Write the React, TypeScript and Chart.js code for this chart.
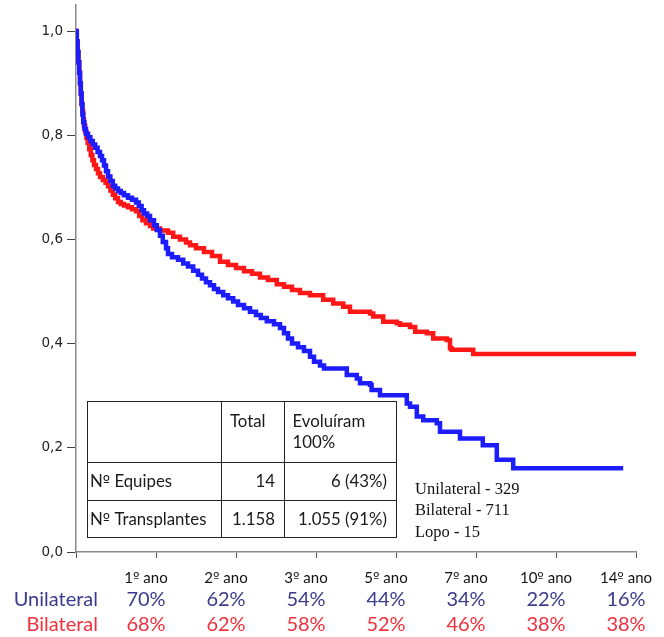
import React, { useEffect, useRef } from 'react';
import { Chart, registerables } from 'chart.js';

Chart.register(...registerables);

// ---- Data ----
const yTickValues = [0, 0.2, 0.4, 0.6, 0.8, 1.0];

const unilateralYears = [0, 0.02, 0.04, 0.06, 0.08, 0.1, 0.12, 0.14, 0.16, 0.18, 0.21, 0.25, 0.3, 0.36, 0.42, 0.48, 0.54, 0.6, 0.65, 0.7, 0.75, 0.8, 0.86, 0.92, 0.98, 1.05, 1.12, 1.2, 1.3, 1.4, 1.5, 1.57, 1.64, 1.7, 1.78, 1.85, 1.95, 2.02, 2.1, 2.17, 2.25, 2.3, 2.4, 2.55, 2.68, 2.8, 2.93, 3.05, 3.15, 3.25, 3.35, 3.45, 3.55, 3.68, 3.8, 3.93, 4.05, 4.2, 4.35, 4.5, 4.62, 4.77, 4.95, 5.1, 5.2, 5.3, 5.4, 5.55, 5.7, 5.85, 5.95, 6.1, 6.2, 6.77, 7.02, 7.1, 7.35, 7.39, 7.6, 8.27, 8.35, 8.52, 8.68, 9.02, 9.1, 9.6, 10.17, 10.52, 10.93, 13.68];
const unilateralSurvival = [1.0, 0.98, 0.96, 0.94, 0.92, 0.90, 0.88, 0.86, 0.84, 0.825, 0.812, 0.803, 0.796, 0.789, 0.782, 0.776, 0.768, 0.76, 0.752, 0.742, 0.731, 0.721, 0.712, 0.703, 0.698, 0.693, 0.689, 0.685, 0.68, 0.676, 0.671, 0.664, 0.656, 0.65, 0.645, 0.637, 0.627, 0.618, 0.607, 0.595, 0.583, 0.572, 0.566, 0.561, 0.554, 0.548, 0.54, 0.532, 0.525, 0.518, 0.512, 0.505, 0.499, 0.493, 0.487, 0.481, 0.474, 0.468, 0.461, 0.455, 0.449, 0.443, 0.437, 0.43, 0.42, 0.41, 0.40, 0.393, 0.386, 0.375, 0.365, 0.358, 0.352, 0.340, 0.333, 0.324, 0.321, 0.311, 0.301, 0.285, 0.279, 0.260, 0.253, 0.247, 0.231, 0.218, 0.205, 0.177, 0.161, 0.161];

const bilateralYears = [0, 0.02, 0.04, 0.06, 0.08, 0.1, 0.12, 0.14, 0.16, 0.18, 0.2, 0.23, 0.26, 0.29, 0.33, 0.37, 0.41, 0.45, 0.5, 0.55, 0.6, 0.67, 0.74, 0.8, 0.86, 0.92, 0.98, 1.05, 1.12, 1.2, 1.3, 1.4, 1.5, 1.58, 1.66, 1.75, 1.85, 1.93, 2.1, 2.3, 2.43, 2.6, 2.75, 2.85, 3.0, 3.2, 3.4, 3.6, 3.8, 4.0, 4.2, 4.4, 4.6, 4.8, 5.02, 5.2, 5.4, 5.6, 5.85, 6.18, 6.43, 6.68, 6.85, 7.35, 7.43, 7.68, 8.02, 8.1, 8.35, 8.48, 8.77, 8.93, 9.27, 9.35, 9.39, 9.93, 14];
const bilateralSurvival = [1.0, 0.98, 0.96, 0.94, 0.92, 0.90, 0.88, 0.86, 0.845, 0.83, 0.818, 0.806, 0.795, 0.785, 0.773, 0.762, 0.752, 0.743, 0.735, 0.727, 0.72, 0.714, 0.709, 0.702, 0.694, 0.686, 0.679, 0.672, 0.668, 0.665, 0.662, 0.658, 0.654, 0.645, 0.637, 0.631, 0.626, 0.621, 0.617, 0.613, 0.605, 0.60, 0.594, 0.589, 0.583, 0.576, 0.568, 0.557, 0.551, 0.545, 0.539, 0.534, 0.527, 0.522, 0.514, 0.509, 0.503, 0.497, 0.493, 0.484, 0.477, 0.471, 0.461, 0.458, 0.452, 0.442, 0.439, 0.436, 0.432, 0.423, 0.420, 0.410, 0.407, 0.391, 0.388, 0.380, 0.380];

const milestoneLabels = ['1º ano', '2º ano', '3º ano', '5º ano', '7º ano', '10º ano', '14º ano'];
const unilateralPct = ['70%', '62%', '54%', '44%', '34%', '22%', '16%'];
const bilateralPct = ['68%', '62%', '58%', '52%', '46%', '38%', '38%'];
const rowNames = ['Unilateral', 'Bilateral'];

const tableHeader = ['', 'Total', 'Evoluíram', '100%'];
const tableRowLabels = ['Nº Equipes', 'Nº Transplantes'];
const tableTotals = ['14', '1.158'];
const tableEvolved = ['6 (43%)', '1.055 (91%)'];

const cohortLegend = ['Unilateral - 329', 'Bilateral - 711', 'Lopo - 15'];

const BLUE = 'rgb(28,28,255)';
const RED = 'rgb(255,22,22)';
const SANS = 'Lato, "Noto Sans", sans-serif';
const ORD = '"DejaVu Sans", sans-serif';

// draws text in SANS, with the ordinal sign in a font that underlines it
function drawMixed(ctx: CanvasRenderingContext2D, text: string, x: number, y: number, size: number, align: 'left' | 'center' | 'right') {
  const parts = text.split(/(º)/).filter((p) => p.length > 0);
  const fontFor = (p: string) => (p === 'º' ? `${size * 0.92}px ${ORD}` : `${size}px ${SANS}`);
  let total = 0;
  const widths = parts.map((p) => {
    ctx.font = fontFor(p);
    const w = ctx.measureText(p).width;
    total += w;
    return w;
  });
  let cx = align === 'left' ? x : align === 'center' ? x - total / 2 : x - total;
  const prevAlign = ctx.textAlign;
  ctx.textAlign = 'left';
  parts.forEach((p, i) => {
    ctx.font = fontFor(p);
    ctx.fillText(p, cx, y);
    cx += widths[i];
  });
  ctx.textAlign = prevAlign;
}

const overlayPlugin = {
  id: 'overlay',
  afterDraw(chart: any) {
    const ctx: CanvasRenderingContext2D = chart.ctx;
    const area = chart.chartArea;
    ctx.save();

    // --- statistics table ---
    const cx = [87.5, 221.5, 284.5, 396.5];
    const ry = [401.5, 462.5, 500.5, 537.5];
    ctx.fillStyle = '#ffffff';
    ctx.fillRect(cx[0], ry[0], cx[3] - cx[0], ry[3] - ry[0]);
    ctx.strokeStyle = '#222';
    ctx.lineWidth = 1;
    ctx.strokeRect(cx[0], ry[0], cx[3] - cx[0], ry[3] - ry[0]);
    ctx.beginPath();
    for (let i = 1; i < 3; i++) {
      ctx.moveTo(cx[i], ry[0]);
      ctx.lineTo(cx[i], ry[3]);
      ctx.moveTo(cx[0], ry[i]);
      ctx.lineTo(cx[3], ry[i]);
    }
    ctx.stroke();

    ctx.fillStyle = '#1a1a1a';
    ctx.font = `16.8px ${SANS}`;
    ctx.textBaseline = 'middle';
    ctx.textAlign = 'left';
    ctx.fillText(tableHeader[1], 230, 422);
    ctx.fillText(tableHeader[2], 292.5, 422);
    ctx.fillText(tableHeader[3], 292.5, 443);
    for (let r = 0; r < tableRowLabels.length; r++) {
      const y = r === 0 ? 482 : 520;
      drawMixed(ctx, tableRowLabels[r], 90, y, 16.8, 'left');
      ctx.font = `16.8px ${SANS}`;
      ctx.textAlign = 'right';
      ctx.fillText(tableTotals[r], 275, y);
      ctx.fillText(tableEvolved[r], 387, y);
    }

    // --- cohort legend (serif) ---
    ctx.textAlign = 'left';
    ctx.textBaseline = 'alphabetic';
    ctx.font = '16.5px "Liberation Serif", serif';
    ctx.fillStyle = '#111';
    cohortLegend.forEach((t, i) => ctx.fillText(t, 415, 494 + i * 21.3));

    // --- milestone table under the axis ---
    const colW = (area.right - area.left) / milestoneLabels.length;
    ctx.textBaseline = 'middle';
    ctx.textAlign = 'center';
    milestoneLabels.forEach((lab, i) => {
      const x = area.left + colW * (i + 0.875);
      ctx.fillStyle = '#111';
      drawMixed(ctx, lab, x, 578, 15, 'center');
      ctx.font = `20px ${SANS}`;
      ctx.textAlign = 'center';
      ctx.fillStyle = '#3b3b8e';
      ctx.fillText(unilateralPct[i], x, 600);
      ctx.fillStyle = '#f0303c';
      ctx.fillText(bilateralPct[i], x, 625);
    });
    ctx.textAlign = 'right';
    ctx.font = `20px ${SANS}`;
    ctx.fillStyle = '#3b3b8e';
    ctx.fillText(rowNames[0], 98, 600);
    ctx.fillStyle = '#f0303c';
    ctx.fillText(rowNames[1], 98, 625);

    ctx.restore();
  },
};

export default function App() {
  const canvasRef = useRef<HTMLCanvasElement | null>(null);

  useEffect(() => {
    const canvas = canvasRef.current;
    if (!canvas) return;
    const chart = new Chart(canvas, {
      type: 'line',
      data: {
        datasets: [
          {
            label: 'Unilateral',
            data: unilateralYears.map((x, i) => ({ x, y: unilateralSurvival[i] })),
            borderColor: BLUE,
            borderWidth: 4.5,
            pointRadius: 0,
            stepped: 'before',
            fill: false,
          },
          {
            label: 'Bilateral',
            data: bilateralYears.map((x, i) => ({ x, y: bilateralSurvival[i] })),
            borderColor: RED,
            borderWidth: 4.5,
            pointRadius: 0,
            stepped: 'before',
            fill: false,
          },
        ],
      },
      options: {
        animation: false,
        responsive: false,
        maintainAspectRatio: false,
        layout: { padding: { left: 0, right: 28, top: 5, bottom: 0 } },
        plugins: {
          legend: { display: false },
          tooltip: { enabled: false },
        },
        scales: {
          x: {
            type: 'linear',
            min: 0,
            max: 14,
            ticks: { stepSize: 2, display: false },
            grid: { drawOnChartArea: false, drawTicks: true, tickLength: 6, color: '#555' },
            border: { color: '#8a8a8a', width: 1.5 },
            afterFit: (s: any) => {
              s.height = 85;
              s.paddingLeft = 0;
              s.paddingRight = 0;
            },
          },
          y: {
            type: 'linear',
            min: 0,
            max: 1.05,
            afterBuildTicks: (s: any) => {
              s.ticks = yTickValues.map((v) => ({ value: v }));
            },
            ticks: {
              callback: (v: any) => Number(v).toFixed(1).replace('.', ','),
              font: { family: '"DejaVu Sans", sans-serif', size: 13.5 },
              color: '#222',
              padding: 4,
            },
            grid: { drawOnChartArea: false, tickLength: 9, color: '#444' },
            border: { color: '#8a8a8a', width: 1.5 },
            afterFit: (s: any) => {
              s.width = 76;
              s.paddingTop = 0;
              s.paddingBottom = 0;
            },
          },
        },
      },
      plugins: [overlayPlugin],
    });
    return () => chart.destroy();
  }, []);

  return (
    <div style={{ position: 'absolute', left: 0, top: 0, width: 664, height: 637, background: '#fff' }}>
      <canvas ref={canvasRef} width={664} height={637} style={{ width: 664, height: 637 }} />
    </div>
  );
}
